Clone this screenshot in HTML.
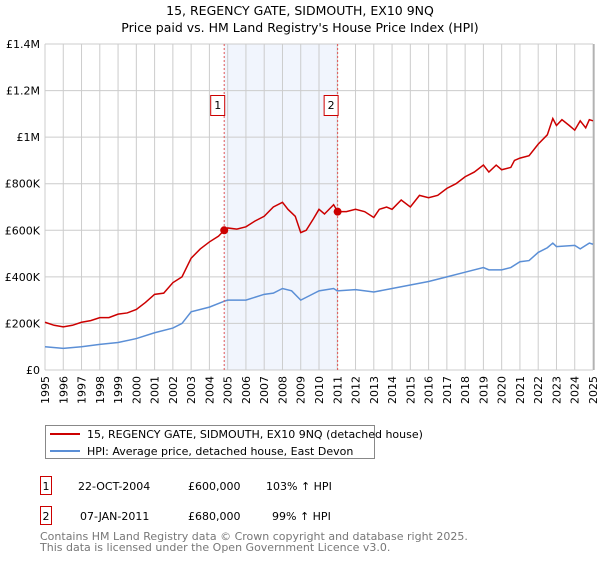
<!DOCTYPE html>
<html><head><meta charset="utf-8"><style>
body{margin:0;background:#fff;font-family:"DejaVu Sans","Liberation Sans",sans-serif;}
svg text{font-family:"DejaVu Sans","Liberation Sans",sans-serif;}
</style></head><body>
<svg id="c" width="600" height="560" xmlns="http://www.w3.org/2000/svg">
<text x="300" y="15" text-anchor="middle" font-size="12.5" fill="#000">15, REGENCY GATE, SIDMOUTH, EX10 9NQ</text>
<text x="300" y="32" text-anchor="middle" font-size="12.5" fill="#000">Price paid vs. HM Land Registry's House Price Index (HPI)</text>
<g id="plot"></g>
<g>
<rect x="45.5" y="425.5" width="329" height="33" fill="#fff" stroke="#888"/>
<line x1="50" y1="434" x2="80" y2="434" stroke="#cc0000" stroke-width="2"/>
<text x="87" y="438" font-size="11">15, REGENCY GATE, SIDMOUTH, EX10 9NQ (detached house)</text>
<line x1="50" y1="451" x2="80" y2="451" stroke="#5b8fd6" stroke-width="2"/>
<text x="87" y="455" font-size="11">HPI: Average price, detached house, East Devon</text>
</g>
<g font-size="11">
<rect x="40.5" y="476.5" width="11" height="18" fill="#fff" stroke="#cc0000"/>
<text x="46" y="490" text-anchor="middle">1</text>
<text x="78" y="490">22-OCT-2004</text><text x="188" y="490">£600,000</text><text x="266" y="490">103% ↑ HPI</text>
<rect x="40.5" y="506.5" width="11" height="18" fill="#fff" stroke="#cc0000"/>
<text x="46" y="520" text-anchor="middle">2</text>
<text x="80" y="520">07-JAN-2011</text><text x="188" y="520">£680,000</text><text x="272" y="520">99% ↑ HPI</text>
</g>
<text x="40" y="540" font-size="11" fill="#777">Contains HM Land Registry data © Crown copyright and database right 2025.</text>
<text x="40" y="551" font-size="11" fill="#777">This data is licensed under the Open Government Licence v3.0.</text>
</svg>
<script>
const years=[1995,1996,1997,1998,1999,2000,2001,2002,2003,2004,2005,2006,2007,2008,2009,2010,2011,2012,2013,2014,2015,2016,2017,2018,2019,2020,2021,2022,2023,2024,2025];
const yTicks=[0,200000,400000,600000,800000,1000000,1200000,1400000];
const yTickLabels=["£0","£200K","£400K","£600K","£800K","£1M","£1.2M","£1.4M"];
const propT=[1995,1995.5,1996,1996.5,1997,1997.5,1998,1998.5,1999,1999.5,2000,2000.5,2001,2001.5,2002,2002.5,2003,2003.5,2004,2004.5,2004.81,2005,2005.5,2006,2006.5,2007,2007.5,2008,2008.3,2008.7,2009,2009.3,2009.7,2010,2010.3,2010.8,2011.02,2011.5,2012,2012.5,2013,2013.3,2013.7,2014,2014.5,2015,2015.5,2016,2016.5,2017,2017.5,2018,2018.5,2019,2019.3,2019.7,2020,2020.5,2020.7,2021,2021.5,2022,2022.5,2022.8,2023,2023.3,2023.7,2024,2024.3,2024.6,2024.8,2025];
const propV=[205,192,185,192,205,212,225,225,240,245,260,290,325,330,375,400,480,520,550,575,600,610,605,615,640,660,700,720,690,660,590,600,650,690,670,710,680,680,690,680,655,690,700,690,730,700,750,740,750,780,800,830,850,880,850,880,860,870,900,910,920,970,1010,1080,1050,1075,1050,1030,1070,1040,1075,1070];
const hpiT=[1995,1996,1997,1998,1999,2000,2001,2002,2002.5,2003,2004,2004.8,2005,2006,2007,2007.5,2008,2008.5,2009,2009.5,2010,2010.8,2011,2012,2013,2014,2015,2016,2017,2018,2019,2019.3,2020,2020.5,2021,2021.5,2022,2022.5,2022.8,2023,2024,2024.3,2024.8,2025];
const hpiV=[100,93,100,110,118,135,160,180,200,250,270,295,300,300,325,330,350,340,300,320,340,350,340,345,335,350,365,380,400,420,440,430,430,440,465,470,505,525,545,530,535,520,545,540];
const sales=[{t:2004.81,v:600,label:"1"},{t:2011.02,v:680,label:"2"}];
const X0=45,X1=593,Y0=370,Y1=44;
const xs=t=>X0+(t-1995)/30*(X1-X0);
const ys=v=>Y0-v/1400000*(Y0-Y1);
const NS="http://www.w3.org/2000/svg";
const g=document.getElementById('plot');
function mk(tag,attrs){const e=document.createElementNS(NS,tag);for(const k in attrs)e.setAttribute(k,attrs[k]);g.appendChild(e);return e;}
let e=mk('rect',{x:xs(sales[0].t),y:Y1,width:xs(sales[1].t)-xs(sales[0].t),height:Y0-Y1,fill:'#eef3fd',opacity:0.8});


years.forEach(y=>{
 let l=mk('line',{x1:xs(y),x2:xs(y),y1:Y1,y2:Y0,stroke:'#ccc'});
 
 
 let t=mk('text',{x:0,y:0,'font-size':11,'text-anchor':'end',transform:`translate(${xs(y)+4},${Y0+6}) rotate(-90)`});
 t.textContent=y;
 
 
});
yTicks.forEach((v,i)=>{
 let l=mk('line',{x1:X0,x2:X1,y1:ys(v),y2:ys(v),stroke:'#ccc'});
 
 
 let t=mk('text',{x:40,y:ys(v)+4,'font-size':11,'text-anchor':'end'});
 t.textContent=yTickLabels[i];
 
 
});
let ax=mk('line',{x1:X1+1,x2:X1+1,y1:Y1,y2:Y0,stroke:'#999'});


let hp=mk('polyline',{points:hpiT.map((t,i)=>xs(t)+','+ys(hpiV[i]*1000)).join(' '),fill:'none',stroke:'#5b8fd6','stroke-width':1.5});


let pp=mk('polyline',{points:propT.map((t,i)=>xs(t)+','+ys(propV[i]*1000)).join(' '),fill:'none',stroke:'#cc0000','stroke-width':1.5});


sales.forEach(s=>{
 let l=mk('line',{x1:xs(s.t),x2:xs(s.t),y1:Y1,y2:Y0,stroke:'#e05555','stroke-dasharray':'2,2'});
 
 
 let c=mk('circle',{cx:xs(s.t),cy:ys(s.v*1000),r:4,fill:'#cc0000'});
 
 
 let r=mk('rect',{x:xs(s.t)-13.5,y:95.5,width:14,height:20,fill:'#fff',stroke:'#cc0000'});
 
 
 let t=mk('text',{x:xs(s.t)-6.5,y:109,'font-size':11,'text-anchor':'middle'});
 t.textContent=s.label;
 
 
});
</script>
</body></html>
